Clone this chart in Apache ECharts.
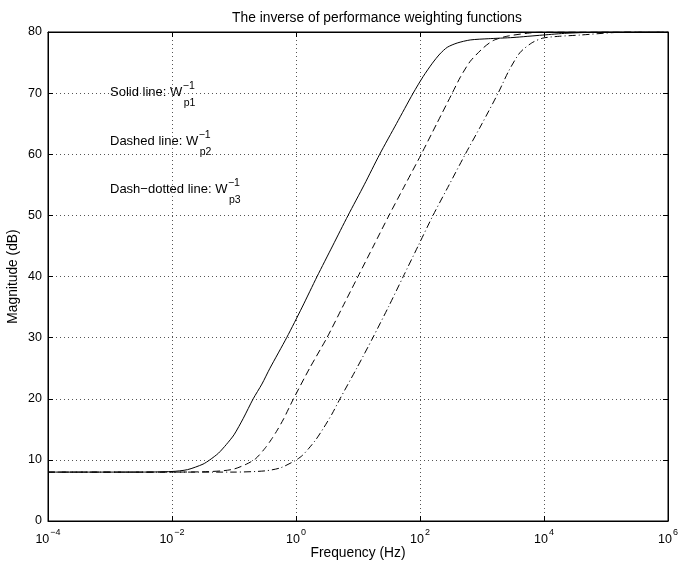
<!DOCTYPE html>
<html><head><meta charset="utf-8">
<script src="https://cdn.jsdelivr.net/npm/echarts@6/dist/echarts.min.js"></script>
<style>html,body{margin:0;padding:0;background:#fff}#c{width:678px;height:561px}</style>
</head><body><div id="c"></div>
<script>
// ---- data (frequency as log10 exponent, magnitude in dB) ----
const xTickExps = [-4, -2, 0, 2, 4, 6];
const yTickVals = [0, 10, 20, 30, 40, 50, 60, 70, 80];

const p1Exp = [-4, -3, -2.5, -2, -1.75, -1.5, -1.39, -1.25, -1.125, -1, -0.85, -0.69, -0.55, -0.42, -0.15, 0.1, 0.34, 0.59, 0.84, 1.1, 1.35, 1.62, 1.89, 2.05, 2.2, 2.32, 2.44, 2.6, 2.81, 3.1, 3.5, 3.98, 4.37, 5, 6];
const p1Mag = [8, 8, 8, 8.1, 8.4, 9.3, 10, 11.1, 12.5, 14.1, 16.8, 20, 22.4, 25, 30, 35, 40, 45, 50, 55, 60, 65, 70, 72.7, 74.9, 76.4, 77.5, 78.2, 78.7, 78.9, 79.1, 79.5, 79.8, 80, 80];

const p2Exp = [-4, -2, -1.5, -1.2, -1, -0.8, -0.65, -0.5, -0.4, -0.3, -0.2, -0.05, 0.22, 0.5, 0.75, 1.0, 1.25, 1.5, 1.76, 2.02, 2.27, 2.52, 2.65, 2.81, 3.02, 3.18, 3.4, 3.73, 3.98, 6];
const p2Mag = [8, 8, 8.05, 8.2, 8.5, 9.3, 10.2, 11.9, 13.3, 14.9, 16.7, 19.8, 25, 30, 35, 40, 45, 50, 55, 60, 65, 70, 72.6, 75.2, 77.4, 78.6, 79.3, 79.8, 80, 80];

const p3Exp = [-4, -1, -0.5, -0.25, -0.01, 0.1, 0.2, 0.32, 0.45, 0.58, 0.71, 0.98, 1.24, 1.49, 1.73, 1.97, 2.21, 2.47, 2.73, 3.0, 3.26, 3.43, 3.61, 3.8, 3.98, 4.25, 4.58, 5.11, 5.39, 6];
const p3Mag = [8, 8, 8.2, 8.7, 9.9, 10.7, 11.8, 13.3, 15.3, 17.5, 20, 25, 30, 35, 40, 45, 50, 55, 60, 65, 70, 73.6, 76.6, 78.2, 79.0, 79.3, 79.5, 79.9, 80, 80];

const titleText = 'The inverse of performance weighting functions';
const xName = 'Frequency (Hz)';
const yName = 'Magnitude (dB)';
const notes = [
  {main: 'Solid line: W', sub: 'p1', sup: '\u22121'},
  {main: 'Dashed line: W', sub: 'p2', sup: '\u22121'},
  {main: 'Dash\u2212dotted line: W', sub: 'p3', sup: '\u22121'}
];

// ---- chart ----
const FONT = '"Liberation Sans", Helvetica, Arial, sans-serif';
const FS = 12.5;
const FS_BIG = 13.8;
const FS_NOTE = 13;
const chart = echarts.init(document.getElementById('c'), null, {renderer: 'canvas'});

const pair = (xs, ys) => xs.map((x, i) => [x, ys[i]]);
const gridLine = {show: true, lineStyle: {color: '#555', width: 1, type: [1, 3]}};
const xAxisBase = {type: 'value', min: -4, max: 6, interval: 2};
const yAxisBase = {type: 'value', min: 0, max: 80, interval: 10};
const frameLine = {show: true, onZero: false, lineStyle: {color: '#000', width: 1}};
const inTick = {show: true, inside: true, length: 5, lineStyle: {color: '#000'}};

const supFmt = v => {
  const e = v < 0 ? '\u2212' + (-v) : String(v);
  return '{b|10}{s|' + e + '}';
};

const ctx = document.createElement('canvas').getContext('2d');
ctx.font = FS_NOTE + 'px ' + FONT;
const baseLeft = 110;
const baselines = [97, 146, 194];
const graphics = [];
notes.forEach((n, i) => {
  const w = ctx.measureText(n.main).width;
  const by = baselines[i];
  graphics.push({type: 'text', left: baseLeft, top: by - 11, style: {text: n.main, font: FS_NOTE + 'px ' + FONT, fill: '#000'}});
  graphics.push({type: 'text', left: baseLeft + w + 0.5, top: by - 16, style: {text: n.sup, font: '10.5px ' + FONT, fill: '#000'}});
  graphics.push({type: 'text', left: baseLeft + w + 1.5, top: by + 0.5, style: {text: n.sub, font: '10.5px ' + FONT, fill: '#000'}});
});

const option = {
  animation: false,
  backgroundColor: '#fff',
  textStyle: {fontFamily: FONT},
  title: {
    text: titleText, left: 372, top: 6, textAlign: 'center',
    textStyle: {fontSize: FS_BIG, fontWeight: 'normal', color: '#000', fontFamily: FONT}
  },
  grid: {left: 48, right: 10, top: 32, bottom: 40, show: true, borderColor: '#000', borderWidth: 1,
         containLabel: false, outerBoundsMode: 'none'},
  xAxis: [
    Object.assign({}, xAxisBase, {
      position: 'bottom',
      name: xName, nameLocation: 'middle', nameGap: 25, nameMoveOverlap: false,
      nameTextStyle: {fontSize: FS_BIG, color: '#000', fontFamily: FONT},
      axisLine: frameLine, axisTick: inTick, splitLine: gridLine,
      axisLabel: {
        show: true, margin: 7, color: '#000', formatter: supFmt,
        rich: {
          b: {fontSize: FS, fontFamily: FONT, color: '#000', verticalAlign: 'bottom', lineHeight: 18},
          s: {fontSize: 9, fontFamily: FONT, color: '#000', verticalAlign: 'top', lineHeight: 18, padding: [0, 0, 0, 1]}
        }
      }
    }),
    Object.assign({}, xAxisBase, {
      position: 'top',
      axisLine: frameLine, axisTick: inTick,
      axisLabel: {show: false}, splitLine: {show: false}
    })
  ],
  yAxis: [
    Object.assign({}, yAxisBase, {
      position: 'left',
      name: yName, nameLocation: 'middle', nameGap: 28, nameRotate: 90, nameMoveOverlap: false,
      nameTextStyle: {fontSize: FS_BIG, color: '#000', fontFamily: FONT},
      axisLine: frameLine, axisTick: inTick, splitLine: gridLine,
      axisLabel: {show: true, margin: 6, color: '#000', fontSize: FS, fontFamily: FONT}
    }),
    Object.assign({}, yAxisBase, {
      position: 'right',
      axisLine: frameLine, axisTick: inTick,
      axisLabel: {show: false}, splitLine: {show: false}
    })
  ],
  series: [
    {name: 'Wp1', type: 'line', xAxisIndex: 0, yAxisIndex: 0, data: pair(p1Exp, p1Mag), showSymbol: false, smooth: 0.25,
     lineStyle: {color: '#000', width: 1, type: 'solid'}},
    {name: 'Wp2', type: 'line', xAxisIndex: 0, yAxisIndex: 0, data: pair(p2Exp, p2Mag), showSymbol: false, smooth: 0.25,
     lineStyle: {color: '#000', width: 1, type: [7, 4]}},
    {name: 'Wp3', type: 'line', xAxisIndex: 0, yAxisIndex: 0, data: pair(p3Exp, p3Mag), showSymbol: false, smooth: 0.25,
     lineStyle: {color: '#000', width: 1, type: [7, 3, 1, 3]}}
  ],
  graphic: graphics
};
chart.setOption(option);
</script>
</body></html>
